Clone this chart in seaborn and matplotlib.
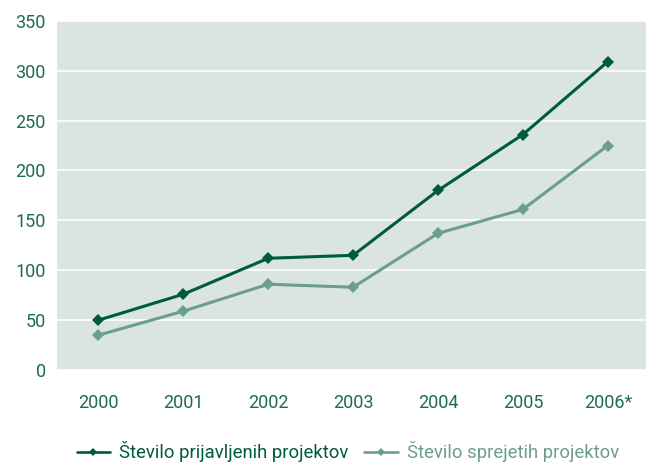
import numpy as np
import pandas as pd
from matplotlib import pyplot as plt
import seaborn as sns

years = ['2000', '2001', '2002', '2003', '2004', '2005', '2006*']
prijavljeni = [50, 76, 112, 115, 180, 236, 309]
sprejeti = [35, 59, 86, 83, 137, 161, 225]

dark = '#005a3c'
light = '#6b9e8c'
text_col = '#1f6a52'

sns.set_style('white')
plt.rcParams['font.family'] = ['Roboto', 'DejaVu Sans']

df = pd.DataFrame({
    'leto': years * 2,
    'stevilo': prijavljeni + sprejeti,
    'serija': ['Število prijavljenih projektov'] * len(years)
              + ['Število sprejetih projektov'] * len(years),
})

fig, ax = plt.subplots(figsize=(6.46, 4.62), dpi=100)
fig.subplots_adjust(left=0.088, right=1.0, top=0.955, bottom=0.199)
ax.set_facecolor('#dae5e2')

sns.lineplot(data=df, x='leto', y='stevilo', hue='serija', sort=False,
             palette=[dark, light], marker='D', markersize=6,
             markeredgewidth=0, linewidth=2.2, ax=ax)

ax.set_ylim(0, 350)
ax.set_xlim(-0.49, 6.45)
ax.set_yticks(np.arange(0, 351, 50))
ax.yaxis.grid(True, color='white', linewidth=1.2)
ax.set_axisbelow(True)
for s in ax.spines.values():
    s.set_visible(False)
ax.tick_params(axis='both', length=0, labelsize=13, labelcolor=text_col)
ax.tick_params(axis='x', pad=17)
ax.tick_params(axis='y', pad=8)
ax.set_xlabel('')
ax.set_ylabel('')

leg = ax.legend(loc='upper center', bbox_to_anchor=(0.494, -0.156), ncol=2,
                frameon=False, fontsize=13.3, handlelength=1.8,
                columnspacing=0.85, handletextpad=0.5)
for t, c in zip(leg.get_texts(), [dark, light]):
    t.set_color(c)
for h in leg.legend_handles:
    h.set_markersize(4.5)
    h.set_linewidth(1.9)

plt.savefig('out.png', dpi=100)
